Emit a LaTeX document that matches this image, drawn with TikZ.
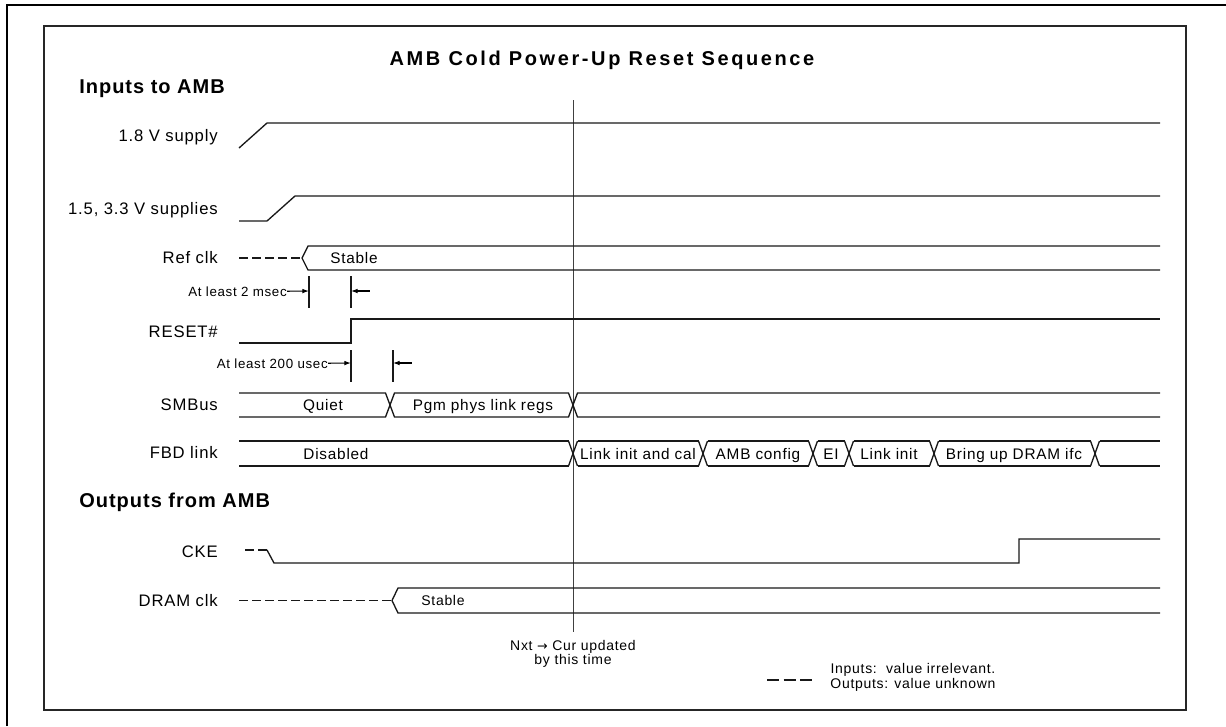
\documentclass[tikz,border=0pt]{standalone}
\usepackage{fontspec}
\setmainfont{Liberation Sans}
\newfontfamily\sigfont[LetterSpace=5]{Liberation Sans}
\newfontfamily\titlefont[LetterSpace=13]{Liberation Sans}
\newfontfamily\arrowfont{DejaVu Sans}
\usetikzlibrary{arrows.meta}

\begin{document}
\begin{tikzpicture}[x=0.75pt, y=-0.75pt,
    sig/.style={line width=1pt, black!90},
    dashsig/.style={sig, line width=1.25pt, dash pattern=on 6.75pt off 3pt},
    lbl/.style={anchor=base east, inner sep=0pt, font=\sigfont\fontsize{12.5}{15}\selectfont},
    bustxt/.style={anchor=base, inner sep=0pt, font=\sigfont\fontsize{11.5}{14}\selectfont},
    small/.style={anchor=base east, inner sep=0pt, font=\sigfont\fontsize{10}{12}\selectfont},
    note/.style={align=center, inner sep=0pt, font=\sigfont\fontsize{10.5}{9.75}\selectfont},
    hdr/.style={anchor=base west, inner sep=0pt, font=\sigfont\bfseries\fontsize{15}{18}\selectfont},
    dim/.style={-{Latex[length=5pt,width=3.5pt]}, line width=0.8pt}
]
\useasboundingbox (0,0) rectangle (1226,726);
% frames
\draw[line width=2pt] (7,726) -- (7,5) -- (1226,5);
\draw[line width=1.1pt, black!85] (44,26) rectangle (1186,710);

\node[anchor=base, inner sep=0pt, font=\titlefont\bfseries\fontsize{15}{18}\selectfont] (title) at (602,65) {AMB Cold Power-Up Reset Sequence};
\node[hdr] (inputs) at (79,93) {Inputs to AMB};
\node[hdr] (outputs) at (79,507) {Outputs from AMB};

% signal names
\node[lbl] (l18) at (218,141) {1.8 V supply};
\node[lbl] (l1533) at (218,214) {1.5, 3.3 V supplies};
\node[lbl] (lref) at (218,263.5) {Ref clk};
\node[lbl] (lreset) at (218,337) {RESET\#};
\node[lbl] (lsmb) at (218,410.5) {SMBus};
\node[lbl] (lfbd) at (218,458.5) {FBD link};
\node[lbl] (lcke) at (218,557) {CKE};
\node[lbl] (ldram) at (218,606) {DRAM clk};

% marker for now
\draw[line width=0.75pt, black!75] (573,100) -- (573,632);

% supplies
\draw[sig] (239,148) -- (267,123) -- (1160,123);
\draw[sig] (239,221) -- (267,221) -- (295,196) -- (1160,196);

% ref clk
\draw[dashsig] (239,258) -- (302,258);
\draw[sig] (1160,246) -- (308,246) -- (302,258) -- (308,270) -- (1160,270);
\node[bustxt] (refstable) at (354,263.5) {Stable};

% at least 2 msec
\coordinate (ta) at (309,291);
\coordinate (tb) at (351,291);
\draw[sig] (ta) ++(0,-15) -- ++(0,32) (tb) ++(0,-15) -- ++(0,32);
\node[small] (msec) at (287,296) {At least 2 msec};
\draw[dim] (msec.east) -- (ta);
\draw[dim] ([xshift=14pt]tb) -- (tb);

% reset
\draw[sig] (239,343) -- (351,343) -- (351,319) -- (1160,319);

% at least 200 usec
\coordinate (tc) at (351,363);
\coordinate (td) at (393,363);
\draw[sig] (tc) ++(0,-13) -- ++(0,32) (td) ++(0,-13) -- ++(0,32);
\node[small] (usec) at (328,368) {At least 200 usec};
\draw[dim] (usec.east) -- (tc);
\draw[dim] ([xshift=14pt]td) -- (td);

% SMBus
\draw[sig] (239,393) -- (385.5,393) -- (394.5,417) -- (568.5,417) -- (577.5,393) -- (1160,393);
\draw[sig] (239,417) -- (385.5,417) -- (394.5,393) -- (568.5,393) -- (577.5,417) -- (1160,417);
\node[bustxt] (quiet) at (323,410.5) {Quiet};
\node[bustxt] (pgm) at (483,410.5) {Pgm phys link regs};

% FBD link
\foreach \xa/\xb in {239/568.5, 577.5/698.5, 707.5/808.5, 817.5/844.5, 853.5/929.5, 938.5/1090.5, 1099.5/1160}
    \draw[sig] (\xa,441) -- (\xb,441) (\xa,466) -- (\xb,466);
\foreach \xc in {573,703,813,849,934,1095}
    \draw[sig] (\xc-4.5,441) -- (\xc+4.5,466) (\xc-4.5,466) -- (\xc+4.5,441);
\foreach \xt/\txt [count=\i] in {336/Disabled, 638/Link init and cal, 758/AMB config, 831/EI, 889/Link init, 1014/Bring up DRAM ifc}
    \node[bustxt] (fbd\i) at (\xt,459) {\txt};

% CKE
\draw[dashsig] (245,550) -- (267,550);
\draw[sig] (267,550) -- (274,563) -- (1019,563) -- (1019,539) -- (1160,539);

% DRAM clk
\draw[dashsig] (239,600.5) -- (392,600.5);
\draw[sig] (1160,588) -- (398,588) -- (392,600.5) -- (398,613) -- (1160,613);
\node[bustxt, font=\sigfont\fontsize{10.5}{12}\selectfont] (dramstable) at (443,605.5) {Stable};

% notes
\node[note] (nxt) at (573,654) {Nxt {\arrowfont\fontsize{9.5}{9.75}\selectfont →} Cur updated\\by this time};
\draw[sig, line width=1.4pt, dash pattern=on 9pt off 3.5pt] (767,680) -- (812,680);
\node[note] (legend) at (913,677.5) {Inputs:\ \ value irrelevant.\\Outputs: value unknown};
\end{tikzpicture}
\end{document}
